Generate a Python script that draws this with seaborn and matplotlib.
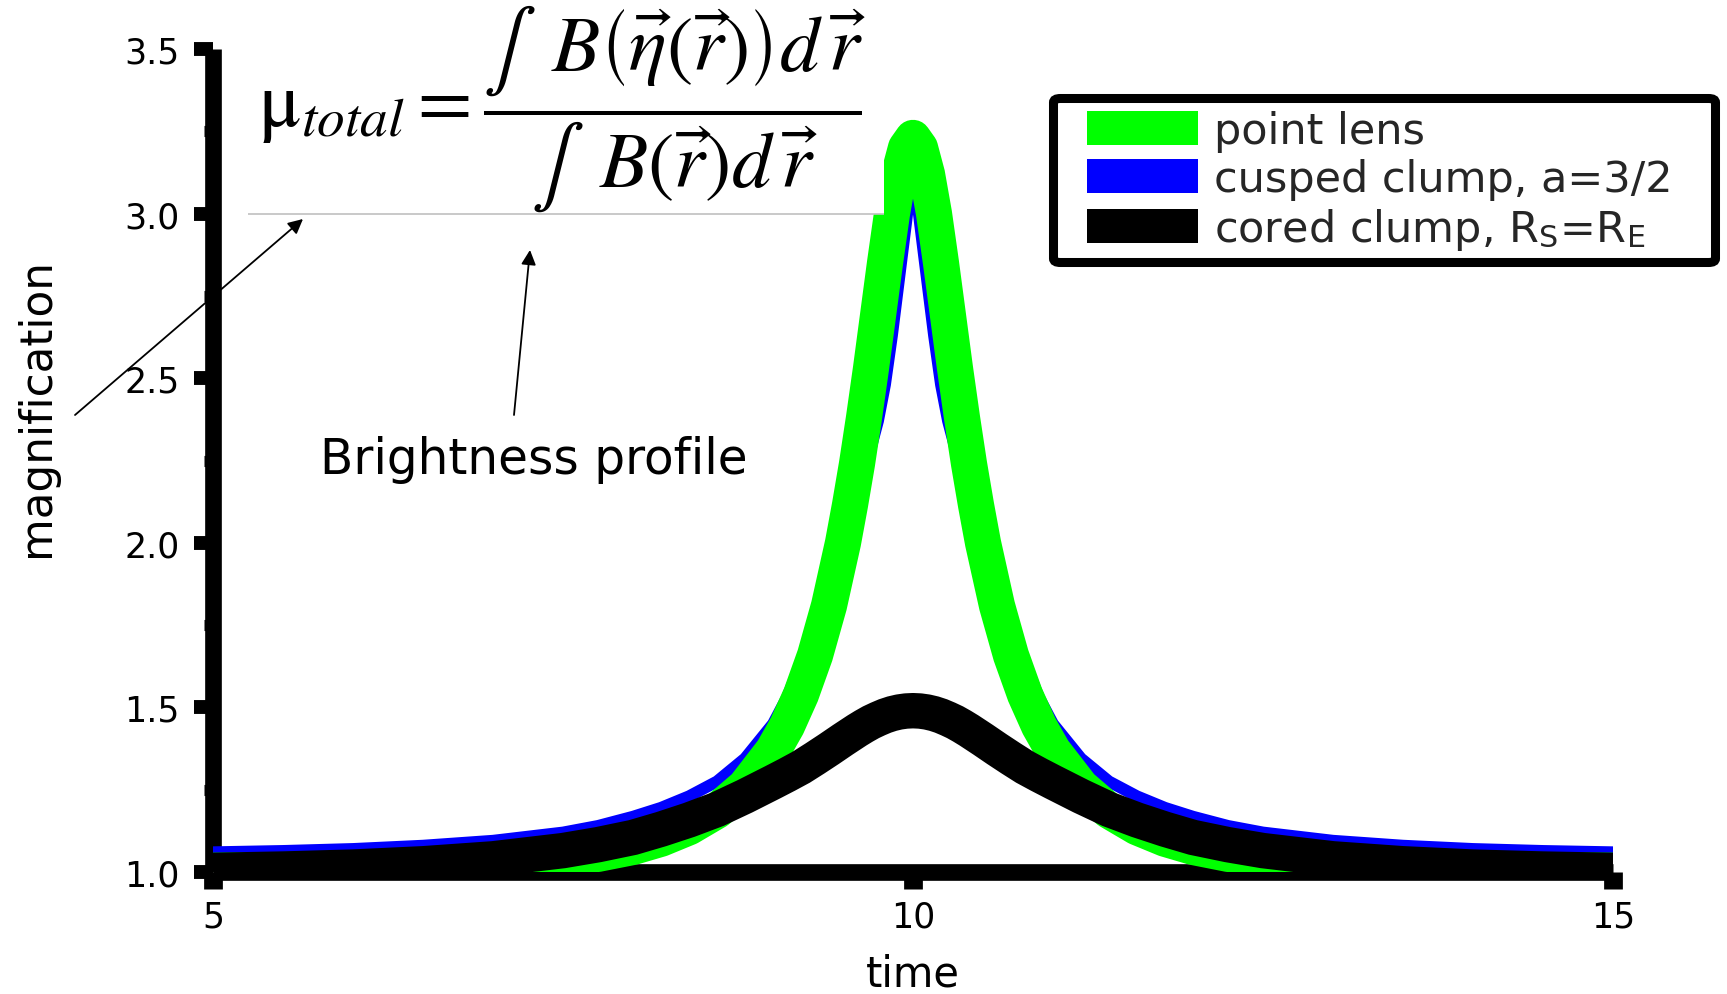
import numpy as np
import pandas as pd
import matplotlib
matplotlib.use("Agg")
import matplotlib.pyplot as plt
import seaborn as sns
from matplotlib.patches import Patch, Rectangle, FancyBboxPatch
from matplotlib.ticker import MultipleLocator, FormatStrFormatter

# ---------------- data ----------------
time = [5.0, 5.5, 6.0, 6.5, 7.0, 7.5, 7.75, 8.0, 8.2, 8.4, 8.6, 8.8, 9.0,
        9.1, 9.2, 9.3, 9.4, 9.5, 9.55, 9.6, 9.65, 9.7, 9.75, 9.8, 9.85,
        9.9, 9.95, 10.0, 10.05, 10.1, 10.15, 10.2, 10.25, 10.3, 10.35,
        10.4, 10.45, 10.5, 10.6, 10.7, 10.8, 10.9, 11.0, 11.2, 11.4, 11.6,
        11.8, 12.0, 12.25, 12.5, 13.0, 13.5, 14.0, 14.5, 15.0]

point_lens = [1.004, 1.006, 1.009, 1.014, 1.023, 1.040, 1.055, 1.076, 1.101,
              1.136, 1.186, 1.259, 1.369, 1.444, 1.539, 1.658, 1.809, 2.00,
              2.115, 2.24, 2.38, 2.53, 2.69, 2.85, 3.00, 3.12, 3.20, 3.23,
              3.20, 3.12, 3.00, 2.85, 2.69, 2.53, 2.38, 2.24, 2.115, 2.00,
              1.809, 1.658, 1.539, 1.444, 1.369, 1.259, 1.186, 1.136, 1.101,
              1.076, 1.055, 1.040, 1.023, 1.014, 1.009, 1.006, 1.004]

cusped_clump = [1.06, 1.064, 1.07, 1.08, 1.095, 1.12, 1.14, 1.168, 1.195,
                1.23, 1.275, 1.345, 1.45, 1.53, 1.635, 1.765, 1.90, 2.03,
                2.095, 2.16, 2.22, 2.29, 2.37, 2.48, 2.63, 2.80, 2.97, 3.15,
                2.97, 2.80, 2.63, 2.48, 2.37, 2.29, 2.22, 2.16, 2.095, 2.03,
                1.90, 1.765, 1.635, 1.53, 1.45, 1.345, 1.275, 1.23, 1.195,
                1.168, 1.14, 1.12, 1.095, 1.08, 1.07, 1.064, 1.06]

cored_clump = [1.005, 1.009, 1.015, 1.025, 1.04, 1.065, 1.083, 1.105, 1.13,
               1.158, 1.19, 1.23, 1.273, 1.295, 1.318, 1.345, 1.373, 1.402,
               1.416, 1.43, 1.443, 1.455, 1.465, 1.474, 1.481, 1.486, 1.489,
               1.49, 1.489, 1.486, 1.481, 1.474, 1.465, 1.455, 1.443, 1.43,
               1.416, 1.402, 1.373, 1.345, 1.318, 1.295, 1.273, 1.23, 1.19,
               1.158, 1.13, 1.105, 1.083, 1.065, 1.04, 1.025, 1.015, 1.009,
               1.005]

x_ticks = [5, 10, 15]
y_ticks = [1.0, 1.5, 2.0, 2.5, 3.0, 3.5]
labels = ["point lens", "cusped clump, a=3/2",
          r"cored clump, R$_\mathregular{S}$=R$_\mathregular{E}$"]
colors = ["#00ff00", "#0000ff", "#000000"]

# formula box (decoration) in data units
BOX_X0, BOX_X1, BOX_Y = 5.25, 9.79, 3.0

# ---------------- figure ----------------
sns.set_theme(style="white")
plt.rcParams["font.family"] = ["DejaVu Sans"]
plt.rcParams["mathtext.fontset"] = "stix"

W, H = 1727, 995
fig = plt.figure(figsize=(W / 100, H / 100), dpi=100)
fig.patch.set_facecolor("white")
ax = fig.add_axes([213 / W, 1 - 873 / H, 1400 / W, 823 / H])
ax.set_facecolor("none")

df = pd.DataFrame({"time": time, "point": point_lens,
                   "cusped": cusped_clump, "cored": cored_clump})

common = dict(solid_capstyle="butt", solid_joinstyle="round")
sns.lineplot(data=df, x="time", y="cusped", color=colors[1], lw=8.5,
             ax=ax, zorder=3, **common)
sns.lineplot(data=df, x="time", y="point", color=colors[0], lw=26,
             ax=ax, zorder=4, **common)
sns.lineplot(data=df, x="time", y="cored", color=colors[2], lw=25.5,
             ax=ax, zorder=5, **common)

ax.set_xlim(5, 15)
ax.set_ylim(1.0, 3.5)
ax.set_xticks(x_ticks)
ax.set_yticks(y_ticks)
ax.yaxis.set_major_formatter(FormatStrFormatter("%.1f"))
ax.yaxis.set_minor_locator(MultipleLocator(0.25))

for s in ["top", "right"]:
    ax.spines[s].set_visible(False)
for s in ["left", "bottom"]:
    ax.spines[s].set_linewidth(12)
    ax.spines[s].set_color("black")
    ax.spines[s].set_zorder(1)
    ax.spines[s].set_capstyle("butt")

ax.tick_params(axis="y", which="major", left=True, direction="out",
               length=14, width=10, color="black", labelsize=25, pad=10,
               labelcolor="black")
ax.tick_params(axis="y", which="minor", left=True, direction="out",
               length=6.8, width=8, color="black")
ax.tick_params(axis="x", which="major", bottom=True, direction="out",
               length=12, width=13.5, color="black", labelsize=25, pad=8,
               labelcolor="black")

ax.set_xlabel("time", fontsize=30, color="black")
ax.set_ylabel("magnification", fontsize=31.5, color="black")
ax.xaxis.set_label_coords(0.5, (873 - 975) / 823)
ax.xaxis.label.set_va("center")
ax.yaxis.set_label_coords((36 - 213) / 1400, (873 - 408) / 823)
ax.yaxis.label.set_va("center")

# white formula box with grey bottom line
ax.add_patch(Rectangle((BOX_X0, BOX_Y), BOX_X1 - BOX_X0, 1.0,
                       facecolor="white", edgecolor="none", zorder=4.5))
ax.hlines(BOX_Y, BOX_X0, BOX_X1, color="#c0c0c0", lw=1.2, zorder=4.6)

formula = (r"$\mathrm{\mu}_{total}=\dfrac{\int\;\;B\left(\vec{\eta}\left(\vec{r}\right)\right)d\,\vec{r}}"
           r"{\int\;\;B\left(\vec{r}\right)d\,\vec{r}}$")
fig.text(562 / W, 1 - 109 / H, formula, fontsize=57, ha="center",
         va="center", color="black")

# arrows
arrow = dict(arrowstyle="-|>", color="black", lw=1.3, mutation_scale=22,
             shrinkA=0, shrinkB=0)
ax.annotate("", xy=(303 / W, 1 - 220 / H), xycoords="figure fraction",
            xytext=(75 / W, 1 - 416 / H), textcoords="figure fraction",
            arrowprops=arrow, zorder=6)
ax.annotate("", xy=(530 / W, 1 - 251 / H), xycoords="figure fraction",
            xytext=(514 / W, 1 - 416 / H), textcoords="figure fraction",
            arrowprops=arrow, zorder=6)
fig.text(534 / W, 1 - 460 / H, "Brightness profile", fontsize=35,
         ha="center", va="center", color="black")

# legend with custom thick frame
frame = FancyBboxPatch((1053.5 / W, 1 - 263.5 / H), 662 / W, 164 / H,
                       boxstyle="round,pad=0,rounding_size=0.004",
                       transform=fig.transFigure, facecolor="white",
                       edgecolor="black", lw=6.5, clip_on=False, zorder=6)
ax.add_patch(frame)
handles = [Patch(facecolor=c, edgecolor="none", label=l)
           for c, l in zip(colors, labels)]
leg = ax.legend(handles=handles, loc="upper left",
                bbox_to_anchor=(1087 / W, 1 - 111 / H),
                bbox_transform=fig.transFigure, frameon=False, fontsize=31,
                handlelength=2.58, handleheight=0.86, handletextpad=0.38,
                labelspacing=0.14, borderpad=0, borderaxespad=0)
leg.set_zorder(7)

fig.savefig("out.png", dpi=100, facecolor="white")
